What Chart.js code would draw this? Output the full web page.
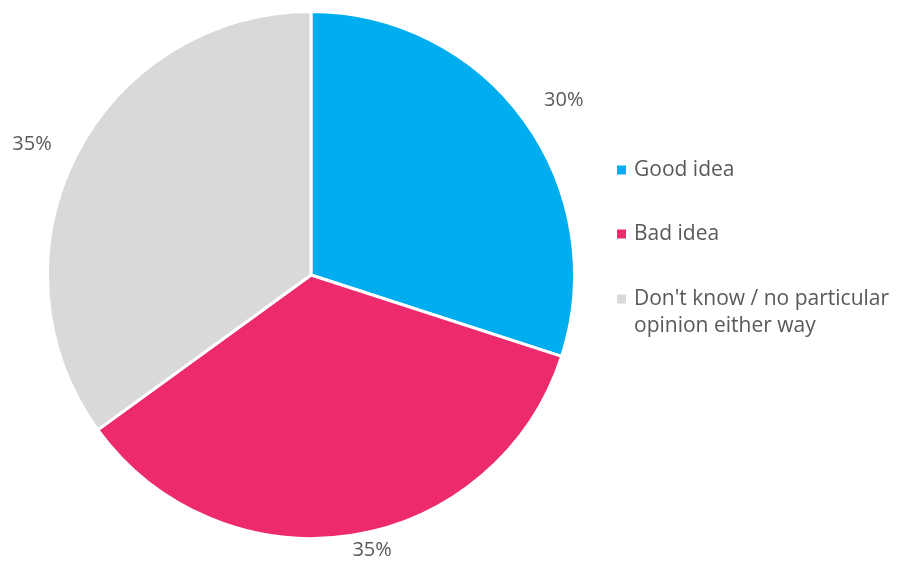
<!DOCTYPE html>
<html>
<head>
<meta charset="utf-8">
<script src="https://cdn.jsdelivr.net/npm/chart.js@4"></script>
<style>
  html, body { margin: 0; padding: 0; background: #fff; }
  #wrap { width: 899px; height: 561px; position: relative; }
</style>
</head>
<body>
<div id="wrap"><canvas id="pie"></canvas></div>
<script>
const categories = ['Good idea', 'Bad idea', "Don't know / no particular opinion either way"];
const legendLines = [['Good idea'], ['Bad idea'], ["Don't know / no particular", 'opinion either way']];
const values = [30, 35, 35];
const sliceColors = ['#00aeef', '#ee2a6f', '#d9d9db'];

const FONT = '"Open Sans", "Noto Sans", sans-serif';
const TEXT = '#595959';
// small hand nudges so the labels sit where the original put them
const labelNudge = [[4, 6], [13, 0], [-5, 9]];

// percent labels outside the slices + legend on the right
const labelsAndLegend = {
    id: 'labelsAndLegend',
    afterDraw(chart) {
        const ctx = chart.ctx;
        const meta = chart.getDatasetMeta(0);
        ctx.save();
        ctx.fillStyle = TEXT;
        ctx.font = '20px ' + FONT;
        ctx.textAlign = 'center';
        ctx.textBaseline = 'middle';
        meta.data.forEach((arc, i) => {
            const mid = (arc.startAngle + arc.endAngle) / 2;
            const r = arc.outerRadius + 44;
            let x = arc.x + Math.cos(mid) * r + labelNudge[i][0];
            let y = arc.y + Math.sin(mid) * r + labelNudge[i][1];
            y = Math.min(y, chart.height - 11);
            ctx.fillText(values[i] + '%', x, y);
        });

        const lx = 617, rows = [170, 234, 299];
        ctx.font = '21px ' + FONT;
        ctx.textAlign = 'left';
        legendLines.forEach((lines, i) => {
            ctx.fillStyle = sliceColors[i];
            ctx.fillRect(lx, rows[i] - 4.5, 9, 9);
            ctx.fillStyle = TEXT;
            lines.forEach((t, j) => ctx.fillText(t, lx + 17, rows[i] + j * 27));
        });
        ctx.restore();
    }
};

new Chart(document.getElementById('pie'), {
    type: 'pie',
    data: {
        labels: categories,
        datasets: [{
            data: values,
            backgroundColor: sliceColors,
            borderColor: '#ffffff',
            borderWidth: 3,
        }]
    },
    options: {
        responsive: true,
        maintainAspectRatio: false,
        animation: false,
        layout: { padding: { left: 46, right: 323, top: 10, bottom: 21 } },
        plugins: {
            legend: { display: false },
            tooltip: { enabled: false },
        }
    },
    plugins: [labelsAndLegend]
});
</script>
</body>
</html>
